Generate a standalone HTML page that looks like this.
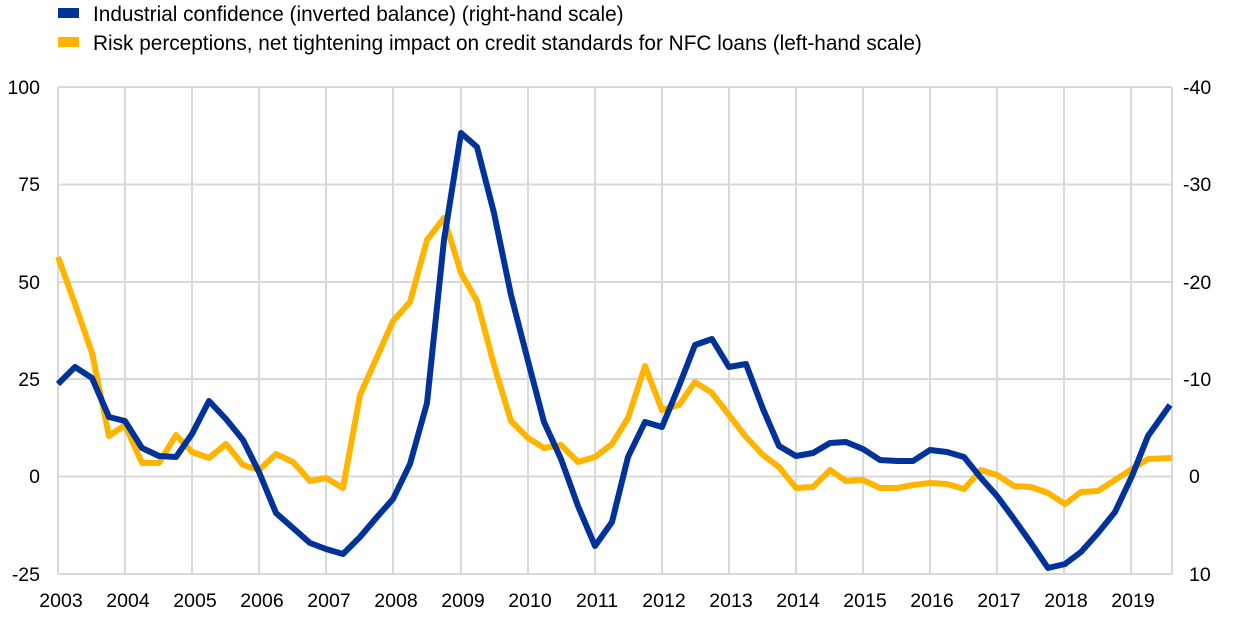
<!DOCTYPE html>
<html><head><meta charset="utf-8"><style>
html,body{margin:0;padding:0;background:#fff}
svg{display:block;font-family:"Liberation Sans",Arial,sans-serif}
</style></head><body>
<svg width="1240" height="617" viewBox="0 0 1240 617" xmlns="http://www.w3.org/2000/svg">
<rect x="58" y="8" width="21" height="10" fill="#003299"/>
<text x="93" y="21" font-size="20.8" fill="#000">Industrial confidence (inverted balance) (right-hand scale)</text>
<rect x="58" y="37" width="21" height="10" fill="#ffb400"/>
<text x="93" y="50" font-size="20.8" fill="#000">Risk perceptions, net tightening impact on credit standards for NFC loans (left-hand scale)</text>
<g stroke="#d9d9d9" stroke-width="2" fill="none">
<line x1="58" y1="87" x2="1172" y2="87"/>
<line x1="58" y1="184.5" x2="1172" y2="184.5"/>
<line x1="58" y1="282" x2="1172" y2="282"/>
<line x1="58" y1="379" x2="1172" y2="379"/>
<line x1="58" y1="476.5" x2="1172" y2="476.5"/>
<line x1="58" y1="574" x2="1172" y2="574"/>
<line x1="58" y1="87" x2="58" y2="574"/>
<line x1="125" y1="87" x2="125" y2="574"/>
<line x1="192" y1="87" x2="192" y2="574"/>
<line x1="259" y1="87" x2="259" y2="574"/>
<line x1="326" y1="87" x2="326" y2="574"/>
<line x1="393" y1="87" x2="393" y2="574"/>
<line x1="461" y1="87" x2="461" y2="574"/>
<line x1="528" y1="87" x2="528" y2="574"/>
<line x1="595" y1="87" x2="595" y2="574"/>
<line x1="662" y1="87" x2="662" y2="574"/>
<line x1="729" y1="87" x2="729" y2="574"/>
<line x1="796" y1="87" x2="796" y2="574"/>
<line x1="863" y1="87" x2="863" y2="574"/>
<line x1="930" y1="87" x2="930" y2="574"/>
<line x1="997" y1="87" x2="997" y2="574"/>
<line x1="1064" y1="87" x2="1064" y2="574"/>
<line x1="1131" y1="87" x2="1131" y2="574"/>
<line x1="1172" y1="87" x2="1172" y2="574"/>
</g>
<g font-size="19.5" fill="#000" text-anchor="end">
<text x="40" y="94">100</text><text x="40" y="191">75</text><text x="40" y="289">50</text>
<text x="40" y="386">25</text><text x="40" y="483">0</text><text x="40" y="581">-25</text>
</g>
<g font-size="19.5" fill="#000" text-anchor="start">
<text x="1183" y="94">-40</text><text x="1183" y="191">-30</text><text x="1183" y="289">-20</text>
<text x="1183" y="386">-10</text><text x="1189" y="483">0</text><text x="1189" y="581">10</text>
</g>
<g font-size="19.5" fill="#000" text-anchor="middle">
<text x="61" y="607">2003</text><text x="128" y="607">2004</text><text x="195" y="607">2005</text><text x="262" y="607">2006</text><text x="329" y="607">2007</text><text x="396" y="607">2008</text><text x="463" y="607">2009</text><text x="530" y="607">2010</text><text x="597" y="607">2011</text><text x="664" y="607">2012</text><text x="731" y="607">2013</text><text x="798" y="607">2014</text><text x="865" y="607">2015</text><text x="932" y="607">2016</text><text x="999" y="607">2017</text><text x="1066" y="607">2018</text><text x="1133" y="607">2019</text>
</g>
<polyline fill="none" stroke="#ffb400" stroke-width="6" stroke-linejoin="round" points="58,257 75,304 92,353 109,436 125,425 142,463 159,463 176,435 192,452 209,458 226,444 243,465 259,470 276,454 293,462 310,481 326,478 343,488 360,395 377,357 393,321 410,302 427,240 444,218 461,273 477,301 494,365 511,421 528,438 544,448 561,445 578,462 595,457 612,444 628,418 645,366 662,410 679,405 695,382 712,393 729,415 746,437 763,455 779,467 796,488 813,487 830,470 846,481 863,480 880,488 897,488 913,485 930,483 947,484 964,489 981,470 997,475 1014,486 1031,487 1048,493 1065,504 1081,492 1098,491 1115,480 1132,469 1148,459 1172,458"/>
<polyline fill="none" stroke="#003299" stroke-width="6" stroke-linejoin="round" points="58,384 75,367 92,378 109,417 125,421 142,448 159,456 176,457 192,434 209,401 226,419 243,440 259,472 276,513 293,528 310,543 326,549 343,554 360,537 377,517 393,499 410,464 427,403 444,240 461,133 477,147 494,213 511,295 528,361 544,422 561,459 578,506 595,546 612,522 628,457 645,422 662,427 679,386 695,345 712,339 729,367 746,364 763,409 779,446 796,456 813,453 830,443 846,442 863,449 880,460 897,461 913,461 930,450 947,452 964,457 981,478 997,496 1014,519 1031,543 1048,568 1065,564 1081,552 1098,533 1115,512 1132,476 1148,436 1170,405"/>
</svg>
</body></html>
